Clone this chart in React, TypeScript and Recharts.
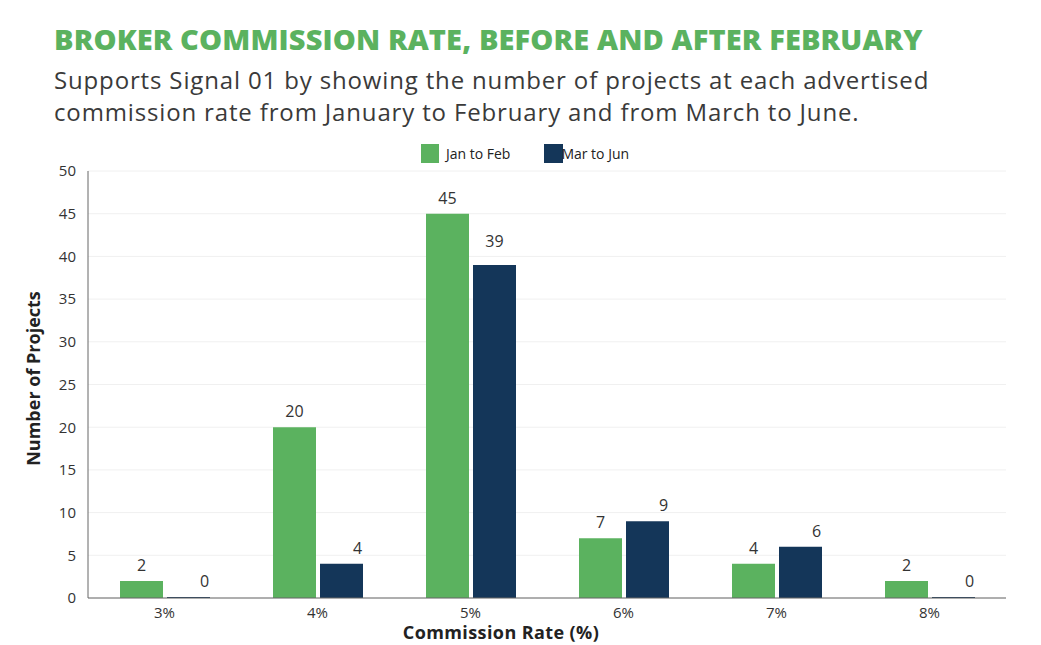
import React from "react";
import {
  BarChart,
  Bar,
  XAxis,
  YAxis,
  CartesianGrid,
  Legend,
  LabelList,
  Label,
} from "recharts";

const rates = ["3%", "4%", "5%", "6%", "7%", "8%"];
const janToFeb = [2, 20, 45, 7, 4, 2];
const marToJun = [0, 4, 39, 9, 6, 0];
const yTicks = [0, 5, 10, 15, 20, 25, 30, 35, 40, 45, 50];

const seriesNames = ["Jan to Feb", "Mar to Jun"];
const GREEN = "#5bb25f";
const NAVY = "#143659";
const FONT = "'Open Sans', 'Noto Sans', sans-serif";

const data = rates.map((rate, i) => ({
  rate,
  janFeb: janToFeb[i],
  marJun: marToJun[i],
}));

// value labels: green sits centred, navy is nudged right (except the tall 5% bar)
const makeLabel = (kind: "green" | "navy") => (props: any) => {
  const { x, y, width, value, index } = props;
  let dx = 0;
  let dy = 0;
  if (kind === "navy") {
    if (index === 2) dy = -8;
    else dx = 16;
  }
  return (
    <text
      x={Number(x) + Number(width) / 2 + dx}
      y={Number(y) - 10 + dy}
      textAnchor="middle"
      fill="#333"
      fontSize={16}
      fontFamily={FONT}
    >
      {value}
    </text>
  );
};

const renderLegend = () => (
  <div
    style={{
      height: 30,
      display: "flex",
      justifyContent: "center",
      alignItems: "flex-start",
      paddingTop: 3,
      paddingLeft: 16,
      boxSizing: "border-box",
      fontFamily: FONT,
      fontSize: 14,
      color: "#222",
    }}
  >
    <div style={{ display: "flex", alignItems: "center" }}>
      <span style={{ width: 18, height: 19, background: GREEN, display: "inline-block" }} />
      <span style={{ marginLeft: 7 }}>{seriesNames[0]}</span>
    </div>
    <div style={{ display: "flex", alignItems: "center", marginLeft: 34 }}>
      <span style={{ width: 19, height: 19, background: NAVY, display: "inline-block" }} />
      <span style={{ marginLeft: -2, position: "relative" }}>{seriesNames[1]}</span>
    </div>
  </div>
);

const YTitle = (props: any) => {
  const vb = props.viewBox || {};
  const cx = vb.x + 5;
  const cy = vb.y + vb.height / 2 - 6;
  return (
    <text
      x={cx}
      y={cy}
      transform={`rotate(-90, ${cx}, ${cy})`}
      textAnchor="middle"
      dominantBaseline="central"
      fontFamily={FONT}
      fontWeight={700}
      fontSize={18}
      fill="#222"
    >
      Number of Projects
    </text>
  );
};

export default function App() {
  return (
    <div
      style={{
        position: "absolute",
        left: 0,
        top: 0,
        width: 1041,
        height: 645,
        background: "#fff",
        fontFamily: FONT,
      }}
    >
      <div
        style={{
          position: "absolute",
          left: 54,
          top: 22,
          fontSize: 29,
          fontWeight: 800,
          color: GREEN,
          lineHeight: "34px",
          letterSpacing: 0.12,
          whiteSpace: "nowrap",
        }}
      >
        BROKER COMMISSION RATE, BEFORE AND AFTER FEBRUARY
      </div>
      <div
        style={{
          position: "absolute",
          left: 54,
          top: 64,
          fontSize: 24,
          color: "#3a3a3a",
          lineHeight: "32px",
          letterSpacing: 0.85,
          whiteSpace: "nowrap",
        }}
      >
        Supports Signal 01 by showing the number of projects at each advertised
        <br />
        commission rate from January to February and from March to June.
      </div>
      <BarChart
        width={1041}
        height={645}
        data={data}
        margin={{ top: 141, right: 35, bottom: 6, left: 28 }}
        barCategoryGap={32}
        barGap={4}
        style={{ position: "absolute", left: 0, top: 0 }}
      >
        <CartesianGrid vertical={false} stroke="#f0f0f0" />
        <Legend verticalAlign="top" align="center" content={renderLegend} />
        <XAxis
          dataKey="rate"
          height={41}
          tickLine={false}
          tickMargin={3}
          axisLine={{ stroke: "#666" }}
          tick={{ fill: "#333", fontSize: 15, fontFamily: FONT }}
        >
          <Label
            value="Commission Rate (%)"
            position="insideBottom"
            offset={0}
            dx={-46}
            fill="#222"
            fontSize={18}
            fontWeight={700}
            letterSpacing={0.4}
            fontFamily={FONT}
          />
        </XAxis>
        <YAxis
          width={60}
          domain={[0, 50]}
          ticks={yTicks}
          interval={0}
          tickLine={false}
          tickMargin={6}
          axisLine={{ stroke: "#666" }}
          tick={{ fill: "#333", fontSize: 15, fontFamily: FONT }}
        >
          <Label content={YTitle} />
        </YAxis>
        <Bar dataKey="janFeb" name={seriesNames[0]} fill={GREEN} minPointSize={1} isAnimationActive={false}>
          <LabelList dataKey="janFeb" content={makeLabel("green")} />
        </Bar>
        <Bar dataKey="marJun" name={seriesNames[1]} fill={NAVY} minPointSize={1} isAnimationActive={false}>
          <LabelList dataKey="marJun" content={makeLabel("navy")} />
        </Bar>
      </BarChart>
    </div>
  );
}
